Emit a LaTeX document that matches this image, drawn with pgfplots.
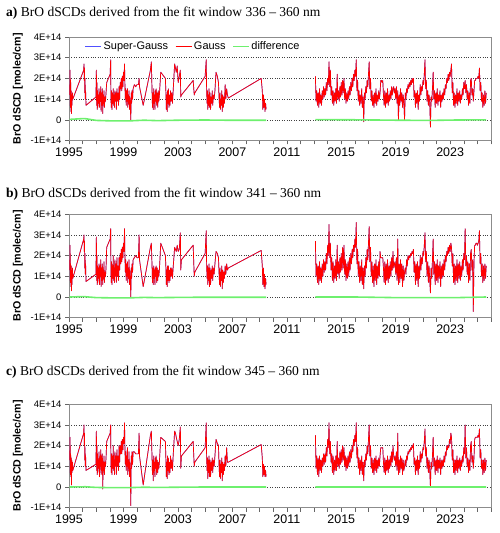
\documentclass[border=0pt]{standalone}
\usepackage{pgfplots}
\pgfplotsset{compat=1.18}
\usepackage{pgfplotstable}
\usepackage{fontspec}
\setmainfont{Liberation Sans}
\newfontfamily\serif{Liberation Serif}
\definecolor{sgblue}{RGB}{80,80,255}
\definecolor{dgreen}{RGB}{110,240,110}

\pgfplotstableread{
year a b c
1995.05 1.2 1.3 1.3
1995.08 2.4 2.5 2.4
1995.10 0.6 0.7 0.6
1995.12 1.9 1.6 1.6
1995.14 0.4 0.5 0.5
1995.16 1.4 1.5 1.4
1995.18 0.3 0.3 0.1
1995.20 1.2 1.2 1.3
1995.22 0.7 0.6 0.7
1995.25 1.3 1.4 1.2
1995.28 1.0 0.9 0.8
1996.08 2.4 2.8 2.6
1996.10 2.7 3.0 3.0
1996.12 1.9 2.2 2.0
1996.14 2.5 2.7 2.6
1996.16 1.3 1.4 1.3
1996.18 2.0 2.1 1.9
1996.20 1.0 1.1 1.0
1996.22 1.4 1.6 1.5
1996.25 0.7 0.75 0.8
1996.98 1.1 1.1 1.1
1997.01 2.4 2.9 2.7
1997.03 0.7 0.8 0.8
1997.05 1.8 2.0 2.0
1997.07 0.5 0.6 0.6
1997.10 1.4 1.5 1.6
1997.12 0.6 0.7 0.7
1997.15 1.2 1.4 1.3
1997.18 0.8 0.9 0.9
1997.21 1.5 1.6 1.7
1997.24 0.6 0.6 0.5
1997.27 1.3 1.5 1.4
1997.30 0.9 1.0 1.0
1997.33 1.6 1.8 1.8
1997.36 0.4 0.5 0.6
1997.39 1.3 1.4 1.5
1997.42 0.7 0.8 0.8
1997.45 1.5 1.6 1.6
1997.48 0.3 0.6 -0.1
1997.51 1.2 1.3 1.2
1997.54 0.8 0.9 0.8
1997.57 1.4 1.7 1.5
1997.60 0.6 0.7 0.6
1997.64 1.1 1.2 1.2
1997.68 0.9 1.0 1.0
1997.72 1.3 1.4 1.4
1997.77 1.8 2.4 2.2
1998.02 2.2 2.8 2.6
1998.06 2.9 3.3 3.0
1998.08 1.2 1.5 1.4
1998.10 0.6 0.7 0.7
1998.13 1.4 1.7 1.6
1998.16 0.5 0.6 0.6
1998.19 1.3 1.5 1.5
1998.22 0.8 0.9 0.9
1998.25 1.5 2.0 2.0
1998.28 0.7 0.8 0.8
1998.31 1.2 1.4 1.3
1998.34 0.6 0.7 0.6
1998.37 1.4 1.8 1.7
1998.40 0.9 1.0 1.0
1998.44 1.3 1.6 1.5
1998.48 0.5 0.7 0.6
1998.52 1.5 1.9 1.8
1998.56 0.9 1.0 1.0
1998.60 1.3 1.5 1.5
1998.64 0.7 0.8 0.8
1998.68 1.6 1.9 2.0
1998.72 1.0 1.3 1.2
1998.76 1.8 2.1 2.0
1998.80 1.5 1.6 1.6
1998.84 2.0 2.3 2.2
1998.88 1.4 1.7 1.6
1998.92 2.1 2.4 2.3
1998.96 1.6 1.9 1.8
1999.00 2.3 2.6 2.4
1999.04 1.9 2.2 2.1
1999.08 2.7 3.3 3.1
1999.11 1.6 1.9 1.8
1999.14 1.0 1.2 1.1
1999.17 1.5 1.8 1.7
1999.20 0.7 0.8 0.8
1999.23 1.4 1.6 1.5
1999.26 0.9 1.0 1.0
1999.29 1.5 1.7 1.9
1999.32 0.6 0.7 0.6
1999.35 1.2 1.4 1.3
1999.38 0.8 0.9 0.9
1999.41 1.4 1.8 1.7
1999.44 0.5 0.6 0.5
1999.47 1.1 1.3 1.2
1999.50 0.7 0.9 0.8
1999.54 0.0 0.0 -0.9
1999.57 1.3 1.4 1.5
1999.60 0.8 0.9 0.9
1999.63 1.4 1.6 1.7
1999.67 1.0 1.2 1.1
1999.71 1.5 1.8 1.7
1999.80 1.7 1.9 1.7
1999.90 1.6 2.0 1.6
2000.00 1.7 1.9 1.6
2000.10 1.7 1.9 1.6
2000.15 2.0 3.0 2.6
2000.18 1.6 1.8 1.5
2000.45 0.7 0.5 0.1
2000.98 2.4 2.4 2.5
2001.05 2.8 2.6 2.7
2001.10 1.4 1.5 1.4
2001.13 0.6 0.7 0.6
2001.16 1.3 1.4 1.3
2001.19 0.5 0.6 0.3
2001.22 1.5 1.5 1.5
2001.25 0.8 0.9 0.8
2001.28 1.2 1.3 1.2
2001.31 0.5 0.6 0.5
2001.34 1.4 1.4 1.4
2001.37 0.9 1.0 0.9
2001.40 1.5 1.5 1.5
2001.44 0.7 0.7 0.6
2001.48 1.3 1.4 1.3
2001.52 0.6 0.8 0.7
2001.56 1.4 1.3 1.2
2001.60 0.9 1.0 0.9
2001.64 1.2 1.3 1.2
2001.74 2.3 2.6 2.4
2002.08 2.0 2.0 2.2
2002.12 1.3 1.4 1.3
2002.15 0.5 0.6 0.5
2002.18 1.2 1.3 1.2
2002.21 0.4 0.5 0.4
2002.24 1.4 1.5 1.5
2002.27 0.8 0.8 0.8
2002.30 1.5 1.5 1.4
2002.34 0.6 0.7 0.6
2002.38 1.2 1.3 1.2
2002.42 0.7 0.8 0.7
2002.46 1.4 1.4 1.5
2002.50 0.9 1.0 0.9
2002.55 1.3 1.4 1.3
2002.60 0.8 0.9 0.8
2002.66 1.5 1.5 1.6
2002.76 2.7 2.4 2.7
2002.82 2.5 2.3 2.6
2002.88 2.3 2.2 2.4
2002.95 2.6 2.5 2.2
2003.02 1.8 2.2 2.0
2003.10 2.1 2.3 2.3
2003.18 2.4 3.1 2.9
2003.21 1.1 1.3 0.9
2003.26 1.2 1.8 1.5
2004.12 1.9 2.5 2.2
2004.20 1.2 1.0 1.0
2004.24 1.3 1.2 1.2
2005.00 2.1 2.1 1.9
2005.08 2.9 3.2 3.1
2005.11 1.5 1.6 1.5
2005.14 0.8 0.9 0.8
2005.17 1.4 1.5 1.4
2005.20 0.5 0.6 0.4
2005.23 1.2 1.4 1.3
2005.26 0.7 0.8 0.7
2005.29 1.5 1.6 1.5
2005.32 0.6 0.5 0.5
2005.36 1.3 1.4 1.3
2005.40 0.5 0.6 0.5
2005.44 1.1 1.3 1.2
2005.48 0.8 0.9 0.8
2005.52 1.4 1.5 1.4
2005.56 0.7 0.8 0.7
2005.60 1.2 1.4 1.3
2005.66 1.0 1.1 1.0
2005.72 1.4 1.6 1.5
2005.80 2.3 2.2 2.3
2005.90 2.1 2.1 2.1
2005.98 1.8 1.9 2.0
2006.02 1.1 1.2 1.1
2006.06 0.6 0.6 0.5
2006.09 1.3 1.4 1.3
2006.12 0.5 0.5 0.4
2006.15 1.0 1.2 1.1
2006.18 0.7 0.8 0.7
2006.22 1.4 1.5 1.4
2006.26 0.4 0.4 0.3
2006.30 1.2 1.3 1.2
2006.34 0.6 0.7 0.6
2006.38 1.1 1.2 1.1
2006.42 0.8 0.9 0.8
2006.47 1.7 1.5 1.5
2006.52 1.0 1.1 1.0
2006.58 1.5 1.6 1.9
2006.64 1.2 1.3 1.2
2006.70 1.05 1.4 1.2
2009.12 2.0 2.25 2.05
2009.20 1.4 1.5 1.4
2009.24 0.5 0.6 0.5
2009.28 1.2 1.4 1.1
2009.32 0.6 0.5 0.6
2009.36 1.0 1.1 1.0
2009.40 0.4 0.4 0.5
2009.44 0.8 0.9 0.8
2009.48 0.5 0.6 0.5
2011.00 nan nan nan
2013.10 2.1 2.7 2.5
2013.15 0.9 1.0 0.9
2013.20 1.4 1.6 1.5
2013.25 0.7 0.7 0.6
2013.30 1.3 1.5 1.4
2013.35 0.6 0.6 0.5
2013.40 1.5 1.7 1.5
2013.45 0.8 0.8 0.8
2013.50 1.2 1.4 1.3
2013.55 0.7 0.7 0.7
2013.60 1.4 1.6 1.4
2013.65 1.0 1.0 1.0
2013.70 1.6 1.8 1.6
2013.75 1.1 1.2 1.1
2013.80 1.5 1.7 1.6
2013.85 1.2 1.3 1.2
2013.90 1.8 2.1 1.9
2013.95 1.4 1.6 1.5
2014.00 2.0 2.5 2.3
2014.05 1.7 2.0 1.9
2014.10 2.8 3.5 3.1
2014.15 1.6 1.9 1.6
2014.20 2.4 2.6 2.2
2014.25 1.2 1.3 1.2
2014.30 1.6 1.9 1.6
2014.35 0.8 0.8 0.7
2014.40 1.4 1.7 1.5
2014.45 0.7 0.7 0.6
2014.50 1.3 1.5 1.3
2014.55 0.9 0.9 0.8
2014.60 1.5 1.8 1.5
2014.65 0.8 0.8 0.8
2014.70 2.2 2.5 2.2
2014.75 1.0 1.1 1.0
2014.80 1.4 1.7 1.4
2014.85 0.9 0.9 0.9
2014.90 1.6 1.9 1.7
2014.95 1.1 1.2 1.1
2015.00 1.8 2.1 1.8
2015.05 1.2 1.3 1.2
2015.10 1.9 2.4 2.0
2015.15 1.3 1.4 1.3
2015.20 2.0 2.5 1.9
2015.25 1.0 1.1 1.0
2015.30 1.5 1.8 1.5
2015.35 0.8 0.8 0.8
2015.40 1.3 1.6 1.4
2015.45 0.9 0.9 0.9
2015.50 1.4 1.7 1.5
2015.55 1.0 1.0 1.0
2015.60 1.6 1.9 1.7
2015.65 1.2 1.3 1.2
2015.70 1.8 2.1 1.8
2015.75 1.4 1.6 1.4
2015.80 2.0 2.3 2.0
2015.85 1.6 1.9 1.7
2015.90 2.2 2.5 2.3
2015.95 1.9 2.2 2.0
2016.00 2.4 2.8 2.5
2016.05 2.1 2.4 2.2
2016.10 2.9 3.6 3.1
2016.15 1.4 1.6 1.4
2016.20 1.9 2.3 1.9
2016.25 0.9 1.0 0.9
2016.30 1.4 1.7 1.4
2016.35 0.7 0.7 0.6
2016.40 1.2 1.5 1.3
2016.45 0.8 0.8 0.8
2016.50 1.5 1.8 1.5
2016.55 0.6 0.6 0.6
2016.60 1.1 1.4 1.2
2016.65 -0.1 0.4 0.3
2016.70 1.3 1.5 1.3
2016.75 1.0 1.0 1.0
2016.80 1.6 1.9 1.6
2016.85 1.3 1.4 1.3
2016.90 1.9 2.3 2.0
2016.95 1.6 1.8 1.6
2017.00 2.2 2.6 2.3
2017.05 2.8 3.4 3.0
2017.10 1.5 1.7 1.5
2017.15 2.0 2.4 2.0
2017.20 0.9 1.0 0.9
2017.25 1.4 1.7 1.4
2017.30 0.7 0.7 0.7
2017.35 1.2 1.5 1.3
2017.40 0.6 0.5 0.6
2017.45 1.3 1.6 1.4
2017.50 0.8 0.8 0.8
2017.55 1.5 1.8 1.5
2017.60 0.7 0.6 0.7
2017.65 1.2 1.5 1.3
2017.70 0.9 0.9 0.9
2017.75 1.4 1.7 1.4
2017.80 1.0 1.0 1.0
2017.85 1.3 2.2 1.5
2017.90 1.9 1.9 1.9
2017.95 1.9 1.9 1.9
2018.00 1.8 1.9 1.9
2018.05 1.9 1.9 1.9
2018.10 1.2 1.4 1.2
2018.15 0.7 0.7 0.7
2018.20 1.4 1.7 1.4
2018.25 0.6 0.6 0.6
2018.30 1.3 1.6 1.3
2018.35 0.8 0.8 0.8
2018.40 1.5 1.8 1.5
2018.45 0.7 0.7 0.7
2018.50 1.2 1.5 1.3
2018.55 0.9 0.9 0.9
2018.60 1.4 1.7 1.5
2018.65 1.0 1.0 1.0
2018.70 1.6 1.9 1.7
2018.75 1.2 1.3 1.2
2018.80 1.5 2.2 2.0
2018.85 1.6 1.4 1.5
2018.90 1.3 1.6 1.3
2018.95 1.5 1.7 1.5
2019.00 1.0 1.1 1.0
2019.05 1.6 1.9 1.7
2019.10 0.8 0.8 0.8
2019.15 1.4 2.8 2.6
2019.20 0.0 0.6 0.6
2019.25 1.2 1.6 1.3
2019.30 0.7 0.7 0.7
2019.35 1.5 1.8 1.5
2019.40 0.9 0.9 0.9
2019.45 1.3 1.6 1.4
2019.50 0.6 0.5 0.6
2019.55 1.2 1.5 1.3
2019.60 0.8 0.8 0.8
2019.65 0.0 1.2 1.0
2019.70 1.3 1.4 1.3
2019.75 1.0 1.1 1.0
2019.80 1.5 1.8 1.5
2019.85 1.3 1.5 1.3
2019.90 1.7 2.0 1.7
2019.95 1.5 1.8 1.6
2020.00 1.8 2.0 1.8
2020.05 1.6 1.9 1.7
2020.10 1.9 2.1 1.9
2020.15 1.7 2.0 1.8
2020.20 2.0 2.2 2.0
2020.25 1.8 2.1 1.9
2020.30 2.0 2.3 2.1
2020.35 1.1 1.2 1.1
2020.40 1.4 1.7 1.4
2020.45 0.6 0.6 0.6
2020.50 1.3 1.6 1.3
2020.55 0.8 0.8 0.8
2020.60 1.4 1.7 1.5
2020.65 0.5 0.5 0.6
2020.70 1.2 1.5 1.3
2020.75 0.9 0.9 0.9
2020.80 1.7 2.0 1.7
2020.85 1.2 1.3 1.2
2020.90 1.6 1.9 1.6
2020.95 1.4 1.6 1.4
2021.00 1.9 2.2 1.9
2021.05 1.7 2.0 1.8
2021.10 2.2 2.5 2.2
2021.15 2.9 3.1 2.8
2021.20 1.5 1.7 1.5
2021.25 1.9 2.2 1.9
2021.30 0.9 1.0 0.9
2021.35 1.4 1.7 1.4
2021.40 0.7 0.7 0.7
2021.45 1.2 1.5 1.3
2021.50 0.8 0.8 0.8
2021.55 -0.35 0.2 0.0
2021.60 1.1 1.4 1.2
2021.65 0.9 0.9 0.9
2021.70 1.5 1.8 1.5
2021.75 2.3 2.8 2.4
2021.80 1.0 1.1 1.0
2021.85 1.4 1.7 1.4
2021.90 0.6 0.6 0.6
2021.95 1.3 1.6 1.3
2022.00 0.8 0.8 0.8
2022.05 1.5 1.8 1.5
2022.10 0.7 0.7 0.7
2022.15 1.2 1.5 1.3
2022.20 0.9 0.9 0.9
2022.25 1.4 1.7 1.4
2022.30 0.6 0.5 0.6
2022.35 1.2 1.5 1.3
2022.40 0.9 0.9 0.9
2022.45 1.3 1.6 1.3
2022.50 1.0 1.0 1.0
2022.55 1.5 1.8 1.5
2022.60 1.2 1.3 1.2
2022.65 1.7 2.0 1.7
2022.70 1.5 1.7 1.5
2022.75 2.0 2.2 2.0
2022.80 1.8 2.0 1.8
2022.85 2.2 2.4 2.0
2022.90 1.9 2.1 1.9
2022.95 2.3 2.5 2.3
2023.00 2.1 2.2 2.1
2023.05 2.4 2.6 2.6
2023.10 2.7 2.4 2.4
2023.15 1.3 1.5 1.3
2023.20 1.8 2.1 1.8
2023.25 0.7 0.7 0.7
2023.30 1.3 1.6 1.3
2023.35 0.6 0.6 0.6
2023.40 1.2 1.5 1.3
2023.45 0.8 0.8 0.8
2023.50 1.5 1.8 1.5
2023.55 0.7 0.7 0.7
2023.60 1.3 1.6 1.3
2023.65 0.9 0.9 0.9
2023.70 1.4 1.7 1.4
2023.75 0.8 0.8 0.8
2023.80 1.2 1.5 1.3
2023.85 1.0 1.0 1.0
2023.90 1.5 1.8 1.5
2023.95 1.2 1.3 1.2
2024.00 1.8 2.1 1.9
2024.05 1.5 1.8 1.6
2024.10 1.9 3.3 3.0
2024.15 1.3 1.5 1.4
2024.20 1.7 2.0 1.9
2024.25 1.0 1.1 1.0
2024.30 1.4 1.7 1.4
2024.35 0.7 0.7 0.7
2024.40 1.3 1.6 1.3
2024.45 0.8 0.8 0.8
2024.50 1.9 2.1 2.0
2024.55 2.0 2.3 2.2
2024.60 1.2 1.3 1.2
2024.65 1.5 1.8 1.5
2024.70 0.9 -0.7 0.9
2024.75 1.4 1.7 1.4
2024.80 1.9 2.5 2.3
2024.85 1.9 2.5 2.4
2024.90 2.0 2.6 2.4
2024.95 2.0 2.6 2.4
2025.00 2.0 2.5 2.4
2025.05 2.1 2.6 2.5
2025.10 2.0 2.7 2.4
2025.15 2.5 3.2 2.8
2025.20 1.4 1.6 1.4
2025.25 1.8 2.1 1.8
2025.30 0.9 1.0 0.9
2025.35 1.3 1.6 1.3
2025.40 0.6 0.7 0.6
2025.45 1.2 1.5 1.3
2025.50 0.7 0.8 0.7
2025.55 1.4 1.6 1.4
2025.60 0.8 0.9 0.8
2025.65 1.3 1.5 1.3
}\dat

\pgfplotstableread{
year da db dc
1995.05 0.02 0.00 0.00
1996.10 0.06 0.02 0.01
1996.25 0.05 0.01 0.01
1997.00 -0.03 -0.03 -0.02
1998.00 -0.05 -0.04 -0.03
1999.50 -0.05 -0.04 -0.03
2000.50 -0.02 -0.02 -0.01
2001.50 -0.04 -0.03 -0.02
2003.00 -0.02 -0.02 -0.01
2005.00 -0.01 -0.01 0.00
2006.50 -0.02 -0.01 0.00
2009.48 -0.02 -0.01 0.00
2011.00 nan nan nan
2013.10 0.01 0.00 0.00
2016.00 0.00 0.00 0.00
2019.00 -0.02 -0.03 0.00
2021.50 -0.03 -0.03 0.00
2023.50 -0.01 -0.03 0.00
2025.65 0.00 0.00 0.00
}\diff

\pgfplotsset{
  panel/.style={
    scale only axis, width=422bp, height=103.5bp,
    xmin=1995, xmax=2026, ymin=-1, ymax=4,
    xtick={1995,1999,...,2023},
    xticklabels={1995,1999,2003,2007,2011,2015,2019,2023},
    minor xtick={1995,1996,...,2026},
    ytick={-1,0,1,2,3,4},
    yticklabels={-1E+14,0,1E+14,2E+14,3E+14,4E+14},
    tick align=outside, tick pos=left,
    major tick length=4bp, minor tick length=4bp,
    every tick/.style={black!60, line width=0.5bp},
    ymajorgrids, grid style={black!75, dotted, line width=0.5bp},
    axis line style={black!45, line width=0.6bp},
    xticklabel style={font=\fontsize{12.5}{14}\selectfont},
    yticklabel style={font=\fontsize{9.5}{11}\selectfont},
    ylabel={BrO dSCD [molec/cm]},
    every axis y label/.style={at={(axis description cs:-0.121,0.5)}, rotate=90, anchor=center, font=\bfseries\fontsize{10.7}{12}\selectfont},
    unbounded coords=jump,
    every axis plot/.append style={line join=round},
  },
  sg/.style={sgblue, line width=0.7bp},
  ga/.style={red, line width=0.7bp},
  df/.style={dgreen, line width=1.6bp},
}

\begin{document}
\begin{tikzpicture}
\useasboundingbox (0,0) rectangle (500bp,533bp);

\node[anchor=base west, inner sep=0pt, font=\serif\fontsize{13.6}{16}\selectfont] at (6bp,516.5bp) {\textbf{a)} BrO dSCDs derived from the fit window 336 – 360 nm};
\node[anchor=base west, inner sep=0pt, font=\serif\fontsize{13.6}{16}\selectfont] at (6bp,335.5bp) {\textbf{b)} BrO dSCDs derived from the fit window 341 – 360 nm};
\node[anchor=base west, inner sep=0pt, font=\serif\fontsize{13.6}{16}\selectfont] at (6bp,157.5bp) {\textbf{c)} BrO dSCDs derived from the fit window 345 – 360 nm};

\begin{axis}[panel, at={(69bp,392.5bp)}, anchor=south west,
  legend style={at={(rel axis cs:0.03,0.995)}, anchor=north west, draw=none, fill=none,
    font=\fontsize{11}{13}\selectfont, legend columns=3,
    /tikz/every even column/.append style={column sep=5bp}},
  legend image code/.code={\draw[line width=0.8bp,#1] (0bp,0bp) -- (16bp,0bp);}]
\addplot[sg] table[x=year,y=a]{\dat};
\addplot[ga] table[x=year,y=a]{\dat};
\addplot[df] table[x=year,y=da]{\diff};
\legend{Super-Gauss,Gauss,difference}
\end{axis}

\begin{axis}[panel, at={(69bp,215.3bp)}, anchor=south west]
\addplot[sg] table[x=year,y=b]{\dat};
\addplot[ga] table[x=year,y=b]{\dat};
\addplot[df] table[x=year,y=db]{\diff};
\end{axis}

\begin{axis}[panel, at={(69bp,25.3bp)}, anchor=south west]
\addplot[sg] table[x=year,y=c]{\dat};
\addplot[ga] table[x=year,y=c]{\dat};
\addplot[df] table[x=year,y=dc]{\diff};
\end{axis}
\end{tikzpicture}
\end{document}
